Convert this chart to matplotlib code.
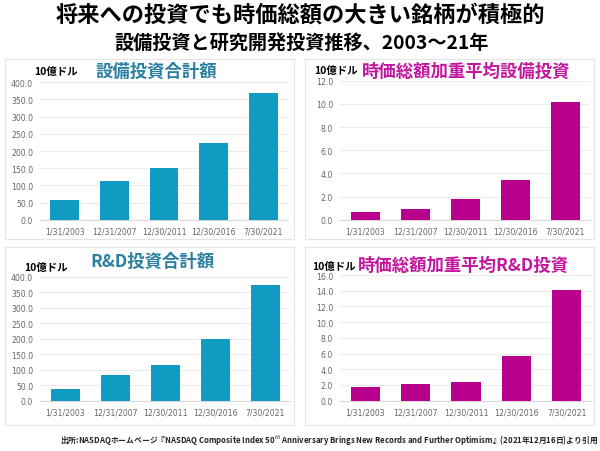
import matplotlib
matplotlib.use('Agg')
import matplotlib.pyplot as plt
from matplotlib.patches import Rectangle

plt.rcParams['font.family'] = ['Noto Sans CJK JP', 'DejaVu Sans']

# -----------------------------
# data
# -----------------------------
dates = ['1/31/2003', '12/31/2007', '12/30/2011', '12/30/2016', '7/30/2021']
capex_total = [57, 112, 150, 224, 370]
capex_weighted = [0.66, 0.89, 1.76, 3.45, 10.2]
rd_total = [39, 84, 116, 199, 374]
rd_weighted = [1.78, 2.08, 2.38, 5.64, 14.1]

main_title = '将来への投資でも時価総額の大きい銘柄が積極的'
sub_title = '設備投資と研究開発投資推移、2003～21年'
unit = '10億ドル'
source = ('出所:NASDAQホームページ『NASDAQ Composite Index 50$^{th}$ Anniversary '
          'Brings New Records and Further Optimism』(2021年12月16日)より引用')

TEAL = '#0f9bc2'
TEAL_T = '#2b80a2'
MAG = '#b8008c'
MAG_T = '#c2189e'

W, H = 600, 452
fig = plt.figure(figsize=(6, 4.52), dpi=100)

def px(x0, y_top, x1, y_bot):
    # pixel box -> figure fraction rect
    return [x0 / W, 1 - y_bot / H, (x1 - x0) / W, (y_bot - y_top) / H]

# panel frames
for (x0, y0, x1, y1) in [(5, 60, 294, 240), (305, 60, 594, 240),
                         (5, 248, 294, 426), (305, 248, 594, 426)]:
    fig.patches.append(Rectangle((x0 / W, 1 - y1 / H), (x1 - x0) / W, (y1 - y0) / H,
                                 transform=fig.transFigure, fill=False,
                                 edgecolor='#e4e4e4', linewidth=0.8))

def panel(box, values, ymax, step, color):
    ax = fig.add_axes(px(*box))
    ax.bar(range(len(values)), values, width=0.58, color=color, zorder=3)
    ax.set_xlim(-0.5, len(values) - 0.5)
    ax.set_ylim(0, ymax)
    ax.set_yticks([i * step for i in range(int(round(ymax / step)) + 1)])
    ax.set_yticklabels([f'{v:.1f}' for v in ax.get_yticks()])
    ax.set_xticks(range(len(values)))
    ax.set_xticklabels(dates)
    ax.grid(axis='y', color='#ececec', linewidth=0.8, zorder=0)
    for s in ['top', 'right', 'left']:
        ax.spines[s].set_visible(False)
    ax.spines['bottom'].set_color('#d9d9d9')
    ax.tick_params(length=0, labelsize=5.6, labelcolor='#666666', pad=5)
    for lab in ax.get_xticklabels() + ax.get_yticklabels():
        lab.set_family(['DejaVu Sans'])
    return ax

panel((40, 83.3, 288, 220.7), capex_total, 400, 50, TEAL)
panel((340, 81.7, 590, 220.7), capex_weighted, 12, 2, MAG)
panel((40, 277.7, 290, 401.7), rd_total, 400, 50, TEAL)
panel((340, 276, 592, 401.7), rd_weighted, 16, 2, MAG)

def ftext(x, y, s, **kw):
    fig.text(x / W, 1 - y / H, s, **kw)

ftext(300, 15, main_title, ha='center', va='center', fontsize=16, fontweight='bold')
ftext(302, 43, sub_title, ha='center', va='center', fontsize=13.8, fontweight='bold')

# panel titles
ftext(156, 72, '設備投資合計額', ha='center', va='center', fontsize=12.5, fontweight='bold', color=TEAL_T)
ftext(466, 72, '時価総額加重平均設備投資', ha='center', va='center', fontsize=12.5, fontweight='bold', color=MAG_T)
ftext(152, 262, 'R&D投資合計額', ha='center', va='center', fontsize=12.5, fontweight='bold', color=TEAL_T)
ftext(463, 266, '時価総額加重平均R&D投資', ha='center', va='center', fontsize=12.5, fontweight='bold', color=MAG_T)

# units
ftext(34, 72, unit, ha='left', va='center', fontsize=7.5, fontweight='bold')
ftext(314, 71, unit, ha='left', va='center', fontsize=7.5, fontweight='bold')
ftext(24, 268, unit, ha='left', va='center', fontsize=7.5, fontweight='bold')
ftext(312, 267, unit, ha='left', va='center', fontsize=7.5, fontweight='bold')

ftext(598, 441, source, ha='right', va='center', fontsize=5.6, fontweight='bold', color='#222222')

fig.savefig('out.png', dpi=100)
